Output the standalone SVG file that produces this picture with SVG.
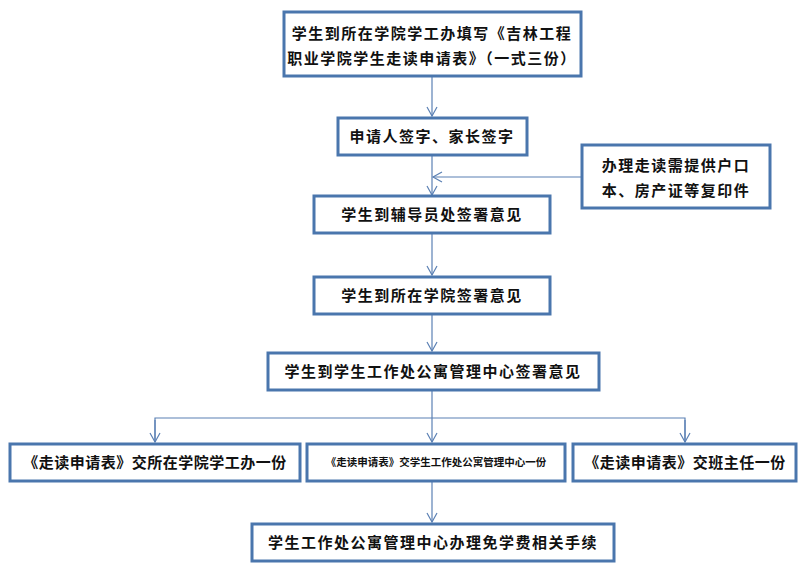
<svg xmlns="http://www.w3.org/2000/svg" width="806" height="570" viewBox="0 0 806 570">
<defs>
<style>
.b{fill:#fff;stroke:#4a76ad;stroke-width:3}
.t{font-family:"Noto Sans CJK SC","Noto Sans",sans-serif;font-size:15px;font-weight:bold;fill:#111;text-anchor:middle;letter-spacing:1.5px}
.c{stroke:#5b80b4;stroke-width:1.2;fill:none}
</style>
<marker id="a" markerWidth="12" markerHeight="12" refX="10" refY="6" orient="auto" markerUnits="userSpaceOnUse"><path d="M1,1 L10,6 L1,11" fill="none" stroke="#5b80b4" stroke-width="1.2"/></marker>
</defs>
<rect width="806" height="570" fill="#fff"/>
<g id="connectors" class="c">
<line x1="432" y1="77" x2="432" y2="116" marker-end="url(#a)"/>
<line x1="432" y1="155" x2="432" y2="195" marker-end="url(#a)"/>
<line x1="582" y1="177" x2="433" y2="177" marker-end="url(#a)"/>
<line x1="432" y1="233" x2="432" y2="275" marker-end="url(#a)"/>
<line x1="432" y1="314" x2="432" y2="351" marker-end="url(#a)"/>
<line x1="432" y1="390" x2="432" y2="442" marker-end="url(#a)"/>
<polyline points="155,442 155,418 685,418 685,442"/>
<line x1="155" y1="420" x2="155" y2="442" marker-end="url(#a)"/>
<line x1="685" y1="420" x2="685" y2="442" marker-end="url(#a)"/>
<line x1="432" y1="481" x2="432" y2="522" marker-end="url(#a)"/>
</g>
<g id="n1"><rect class="b" x="284" y="12" width="297" height="64"/>
<text class="t" x="432" y="39">学生到所在学院学工办填写《吉林工程</text>
<text class="t" x="432" y="64">职业学院学生走读申请表》（一式三份）</text></g>
<g id="n2"><rect class="b" x="338" y="118" width="189" height="37"/><text class="t" x="432" y="142">申请人签字、家长签字</text></g>
<g id="n_side"><rect class="b" x="582" y="145" width="188" height="63"/>
<text class="t" x="676" y="171">办理走读需提供户口</text>
<text class="t" x="676" y="196">本、房产证等复印件</text></g>
<g id="n3"><rect class="b" x="314" y="196" width="236" height="37"/><text class="t" x="432" y="220">学生到辅导员处签署意见</text></g>
<g id="n4"><rect class="b" x="314" y="277" width="236" height="37"/><text class="t" x="432" y="301">学生到所在学院签署意见</text></g>
<g id="n5"><rect class="b" x="268" y="353" width="331" height="37"/><text class="t" x="433" y="377">学生到学生工作处公寓管理中心签署意见</text></g>
<g id="n6"><rect class="b" x="10" y="444" width="290" height="37"/><text class="t" x="155" y="468" style="letter-spacing:0.5px">《走读申请表》交所在学院学工办一份</text></g>
<g id="n7"><rect class="b" x="307" y="444" width="258" height="37"/><text class="t" x="436" y="466" style="font-size:10.5px;letter-spacing:0">《走读申请表》交学生工作处公寓管理中心一份</text></g>
<g id="n8"><rect class="b" x="573" y="444" width="223" height="37"/><text class="t" x="685" y="468" style="letter-spacing:0.5px">《走读申请表》交班主任一份</text></g>
<g id="n9"><rect class="b" x="252" y="524" width="362" height="37"/><text class="t" x="433" y="548">学生工作处公寓管理中心办理免学费相关手续</text></g>
</svg>
